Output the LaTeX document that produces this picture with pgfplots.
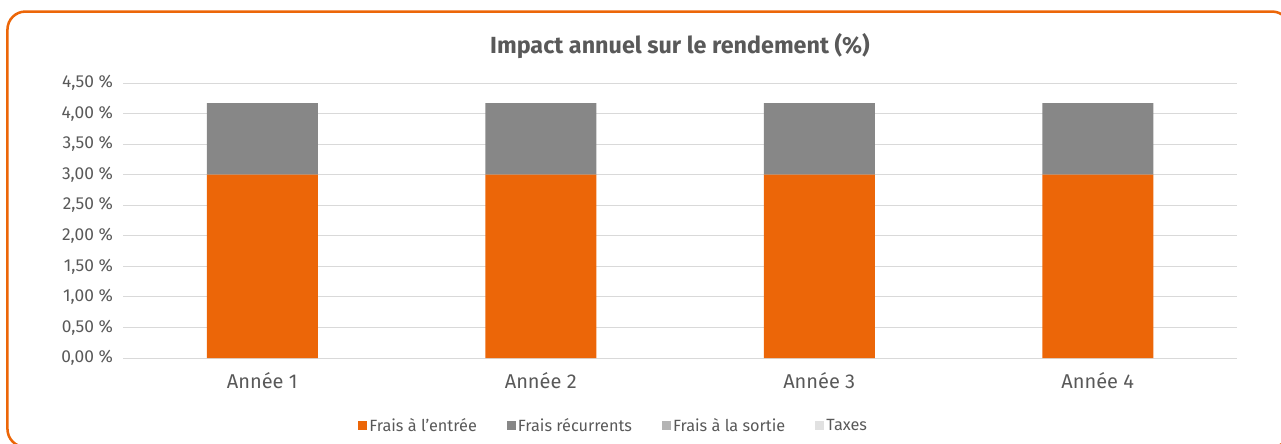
\documentclass[border=0pt]{standalone}
\usepackage{pgfplots}
\pgfplotsset{compat=1.18}
\usepackage{fontspec}
\setmainfont{Fira Sans}
\definecolor{ingorange}{HTML}{EC6608}
\definecolor{grayA}{HTML}{878787}
\definecolor{grayB}{HTML}{B4B4B4}
\definecolor{grayC}{HTML}{E1E1E1}
\definecolor{gridc}{HTML}{D9D9D9}
\definecolor{txt}{HTML}{595959}
\begin{document}
\begin{tikzpicture}
\useasboundingbox (0,0) rectangle (960.75pt,332.25pt);
\draw[ingorange, line width=1.9pt, rounded corners=13.5pt] (5.6pt,323.6pt) rectangle (967.5pt,-3pt);
\node[font=\fontsize{17.5}{19}\selectfont\bfseries, text=txt] at (510pt,297.5pt) {Impact annuel sur le rendement (\%)};
\begin{axis}[
  at={(92.25pt,63.75pt)}, anchor=south west,
  scale only axis, width=835.5pt, height=206.25pt,
  ybar stacked, bar width=83.25pt,
  xmin=-0.5, xmax=3.5, ymin=0, ymax=4.5,
  xtick={0,1,2,3}, xticklabels={Année 1,Année 2,Année 3,Année 4},
  ytick={0,0.5,1,1.5,2,2.5,3,3.5,4,4.5},
  ymajorgrids, grid style={draw=gridc, line width=0.75pt},
  axis line style={draw=none}, major tick length=0pt,
  tick label style={font=\fontsize{13}{15}\selectfont, text=txt},
  /pgf/number format/.cd, fixed, fixed zerofill, precision=2, use comma, assume math mode=true,
  /pgfplots/.cd,
  yticklabel={\pgfmathprintnumber{\tick}~\%},
  ytick style={draw=none}, xtick style={draw=none},
  xticklabel style={yshift=-7.5pt, font=\fontsize{15}{17}\selectfont},
  yticklabel style={xshift=-4pt},
  legend columns=4,
  legend style={draw=none, fill=none, inner sep=0pt, at={(0.211,-0.247)}, anchor=west,
    font=\fontsize{12.2}{14}\selectfont, text=txt,
    /tikz/every even column/.append style={column sep=21pt},
    /tikz/every odd column/.append style={column sep=0pt},
    nodes={inner sep=1.5pt}},
  legend image code/.code={\fill[#1] (0pt,-3.4pt) rectangle (6.8pt,3.4pt);},
]
\addplot[fill=ingorange, draw=none] coordinates {(0,3.00) (1,3.00) (2,3.00) (3,3.00)};
\addplot[fill=grayA, draw=none] coordinates {(0,1.17) (1,1.17) (2,1.17) (3,1.17)};
\addplot[fill=grayB, draw=none] coordinates {(0,0) (1,0) (2,0) (3,0)};
\addplot[fill=grayC, draw=none] coordinates {(0,0) (1,0) (2,0) (3,0)};
\legend{Frais à l'entrée, Frais récurrents, Frais à la sortie, Taxes}
\end{axis}
\end{tikzpicture}
\end{document}
